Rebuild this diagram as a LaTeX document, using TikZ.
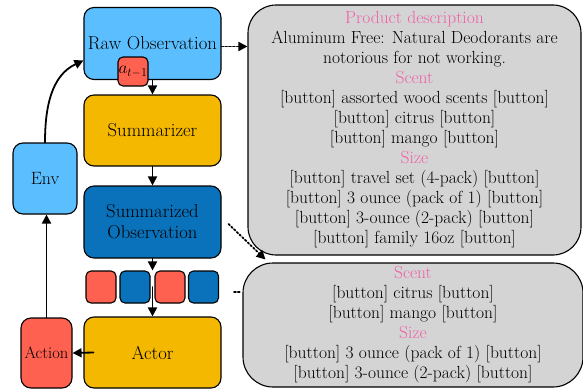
\documentclass[tikz,border=0pt]{standalone}
\usetikzlibrary{arrows.meta}
\usetikzlibrary{positioning}

\definecolor{skyblue}{HTML}{5BBFFF}
\definecolor{deepblue}{HTML}{0A72BA}
\definecolor{amber}{HTML}{F5B800}
\definecolor{tomato}{HTML}{FF6150}
\definecolor{panelgrey}{HTML}{D4D4D4}
\definecolor{headpink}{HTML}{F060A8}

\tikzset{
  block/.style={draw=black,line width=1.1pt,rounded corners=10pt,minimum width=137pt,minimum height=72pt,align=center,font=\fontsize{18.7}{21}\selectfont},
  token/.style={draw=black,line width=1.1pt,rounded corners=5pt,minimum width=30pt,minimum height=32pt,inner sep=0pt},
  panel/.style={draw=black,line width=1.1pt,fill=panelgrey,align=center,font=\fontsize{17.5}{20}\selectfont},
  flow/.style={->,line width=1.8pt},
  peek/.style={->,line width=1.8pt,dotted}
}
\newcommand{\head}[1]{\textcolor{headpink}{#1}}
\newcommand{\btn}{{[button]}}

\begin{document}
\begin{tikzpicture}[line cap=round,line join=round,>={Triangle[length=9pt,width=9pt]},x=1pt,y=1pt]
\useasboundingbox (0,0) rectangle (583,-388);
% left column
\node[block,fill=skyblue] (raw) at (152.5,-43.5) {Raw Observation};
\node[token,fill=tomato,minimum height=29pt,font=\fontsize{17.5}{20}\selectfont] (at) at (133,-71.5) {$a_{t-1}$};
\node[block,fill=amber,minimum height=71pt] (summ) at (152.5,-130.5) {Summarizer};
\node[block,fill=deepblue] (sobs) at (152.5,-222) {Summarized\\Observation};
\node[token,fill=tomato] (t1) at (101,-287) {};
\node[token,fill=deepblue] (t2) at (135,-287) {};
\node[token,fill=tomato] (t3) at (170,-287) {};
\node[token,fill=deepblue] (t4) at (203.5,-287) {};
\node[block,fill=amber,minimum height=71pt] (actor) at (152.5,-352.5) {Actor};
\node[block,fill=tomato,minimum width=51pt,minimum height=70pt,inner sep=0pt,font=\fontsize{16.5}{20}\selectfont] (action) at (46.5,-353) {Action};
\node[block,fill=skyblue,minimum width=64pt,minimum height=71pt,font=\fontsize{17.8}{20}\selectfont] (env) at (45,-178.5) {Env};
% right panels
\node[panel,rounded corners=28pt,minimum width=333pt,minimum height=250pt] (desc) at (414.5,-130) {\head{Product description}\\
Aluminum Free: Natural Deodorants are\\
notorious for not working.\\
\head{Scent}\\
\btn{} assorted wood scents \btn\\
\btn{} citrus \btn\\
\btn{} mango \btn\\
\head{Size}\\
\btn{} travel set (4-pack) \btn\\
\btn{} 3 ounce (pack of 1) \btn\\
\btn{} 3-ounce (2-pack) \btn\\
\btn{} family 16oz \btn};
\node[panel,rounded corners=30pt,minimum width=340pt,minimum height=124pt] (short) at (413,-325) {\head{Scent}\\
\btn{} citrus \btn\\
\btn{} mango \btn\\
\head{Size}\\
\btn{} 3 ounce (pack of 1) \btn\\
\btn{} 3-ounce (2-pack) \btn};
% connectors
\draw[flow] (raw.south -| sobs) -- (summ.north);
\draw[flow] (summ) -- (sobs);
\draw[flow] (sobs) -- (sobs |- t2.north);
\draw[flow] (sobs |- t2.center) -- (actor.north);
\draw[flow] ([xshift=10pt]actor.west) -- (action.east);
\draw[flow] (action.north) -- (action.north |- env.south);
\draw[flow] (env.north) to[out=90,in=205] ([yshift=-17pt]raw.west);
\draw[peek] ([yshift=-3pt]raw.east) -- ([yshift=-3pt]raw.east -| desc.west);
\draw[peek] ([xshift=7pt,yshift=-2pt]sobs.east) -- ([xshift=23pt,yshift=3pt]short.north west);
\draw[line width=1.8pt,dotted] ([xshift=15pt,yshift=-5pt]t4.east) -- ++(6,0);
\end{tikzpicture}
\end{document}
